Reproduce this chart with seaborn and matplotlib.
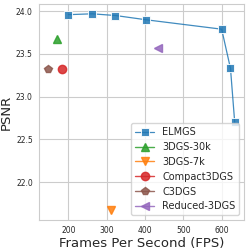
import numpy as np
import pandas as pd
import matplotlib
matplotlib.use("Agg")
import matplotlib.pyplot as plt
import seaborn as sns

sns.set_style("whitegrid")

# ELMGS curve (FPS vs PSNR)
elmgs_fps = [200, 262, 323, 403, 600, 623, 634]
elmgs_psnr = [23.96, 23.97, 23.95, 23.90, 23.79, 23.33, 22.70]

# single-point baselines
methods = ["3DGS-30k", "3DGS-7k", "Compact3DGS", "C3DGS", "Reduced-3DGS"]
method_fps = [171, 311, 184, 148, 434]
method_psnr = [23.68, 21.67, 23.32, 23.32, 23.57]
method_markers = ["^", "v", "o", "p", "<"]
method_colors = ["tab:green", "tab:orange", "tab:red", "tab:brown", "tab:purple"]

fig, ax = plt.subplots(figsize=(2.49, 2.49), dpi=100)

df = pd.DataFrame({"fps": elmgs_fps, "psnr": elmgs_psnr})
sns.lineplot(data=df, x="fps", y="psnr", ax=ax, marker="s", color="tab:blue",
             markersize=5.5, linewidth=0.9, label="ELMGS", alpha=0.85)

for name, fx, py, mk, c in zip(methods, method_fps, method_psnr, method_markers, method_colors):
    ax.plot([fx], [py], marker=mk, color=c, markersize=6, linestyle="-",
            linewidth=1, label=name, alpha=0.85)

ax.set_xlabel("Frames Per Second (FPS)", fontsize=9.5, labelpad=1)
ax.set_ylabel("PSNR", fontsize=9.5, labelpad=2)
ax.tick_params(axis="both", labelsize=5.5, pad=1)
ax.legend(loc="lower right", fontsize=7, handlelength=2, borderpad=0.4,
          labelspacing=0.5)

plt.subplots_adjust(left=0.157, right=0.98, bottom=0.116, top=0.984)
plt.savefig("out.png", dpi=100)
